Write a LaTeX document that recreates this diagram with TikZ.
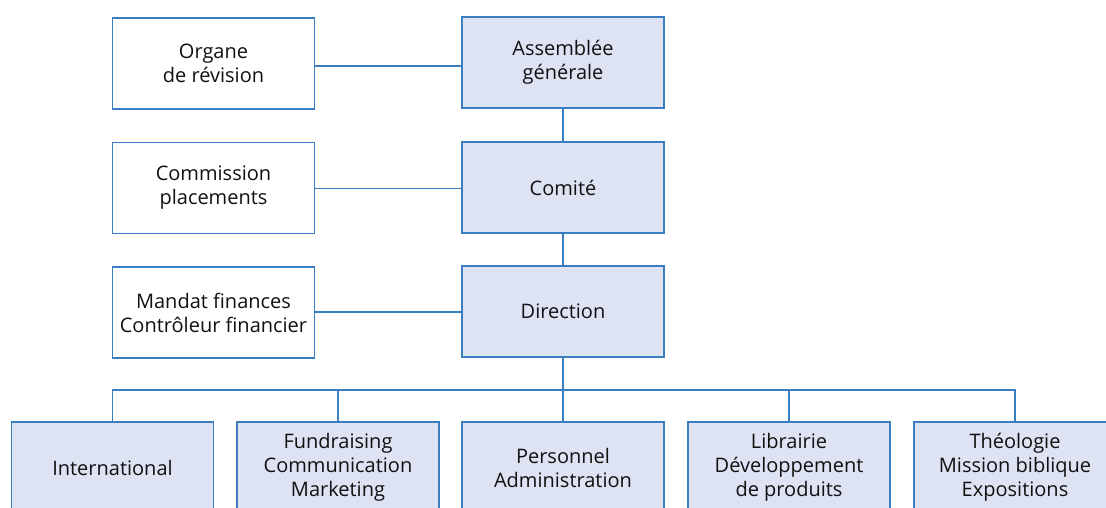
\documentclass[tikz,border=0pt]{standalone}
\usepackage{fontspec}
\setmainfont{Open Sans}
\definecolor{boxline}{HTML}{3A7DC0}
\definecolor{boxfill}{HTML}{DDE3F3}
\definecolor{txt}{HTML}{111111}
\begin{document}
\begin{tikzpicture}[x=1pt,y=-1pt,
  base/.style={rectangle, draw=boxline, line width=1.3pt, minimum width=202pt, minimum height=91pt,
    inner sep=0pt, align=center, text=txt, font=\fontsize{20}{24}\selectfont},
  plain/.style={base, fill=white},
  unit/.style={base, fill=boxfill},
  conn/.style={draw=boxline, line width=1.3pt}]
\useasboundingbox (0,0) rectangle (1106,507);
\clip (0,0) rectangle (1106,507);
\fill[white] (0,0) rectangle (1106,507);
\node[plain] (org) at (213.5,63.5) {Organe\\de révision};
\node[unit] (ass) at (563,62.5) {Assemblée\\générale};
\node[plain] (com) at (213.5,188) {Commission\\placements};
\node[unit] (cte) at (563,187.5) {Comité};
\node[plain] (man) at (213.5,312.5) {Mandat finances\\Contrôleur financier};
\node[unit] (dir) at (563,311.5) {Direction};
\node[unit] (int) at (112.5,467.5) {International};
\node[unit] (fun) at (338,467.5) {Fundraising\\Communication\\Marketing};
\node[unit] (per) at (563,467.5) {Personnel\\Administration};
\node[unit] (lib) at (789,467.5) {Librairie\\Développement\\de produits};
\node[unit] (theo) at (1015,467.5) {Théologie\\Mission biblique\\Expositions};
\coordinate (bus) at (563,390);
\path[conn] (org.east |- 0,66) -- (ass.west |- 0,66);
\path[conn] (com.east |- 0,188.5) -- (cte.west |- 0,188.5);
\path[conn] (man.east |- 0,312) -- (dir.west |- 0,312);
\path[conn] (ass.south) -- (cte.north);
\path[conn] (cte.south) -- (dir.north);
\path[conn] (dir.south) -- (per.north);
\path[conn] (int.north) |- (bus) -| (theo.north);
\path[conn] (fun.north) -- (fun.north |- bus);
\path[conn] (lib.north) -- (lib.north |- bus);
\end{tikzpicture}
\end{document}
